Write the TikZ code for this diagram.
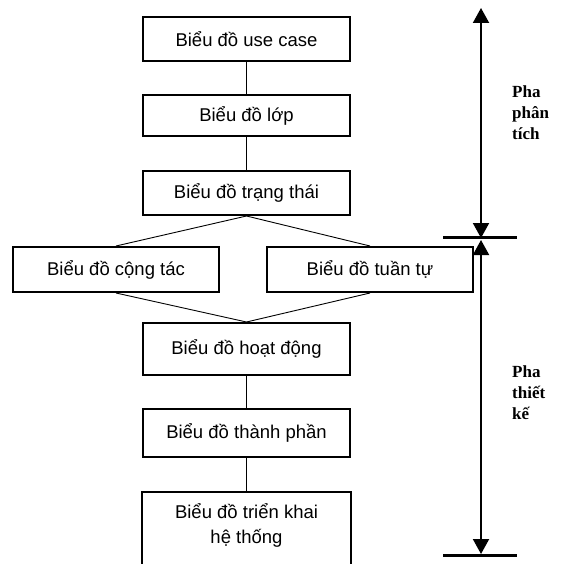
\documentclass[tikz,border=0pt]{standalone}
\usepackage{fontspec}
\setmainfont{Liberation Sans}
\newfontfamily\phasefont{Liberation Serif}
\usetikzlibrary{arrows.meta}

\begin{document}
\begin{tikzpicture}[x=1pt,y=-1pt,
  box/.style={draw, line width=2pt, minimum width=207pt, inner sep=0pt,
    font=\fontsize{18.5}{25}\selectfont, align=center},
  link/.style={line width=0.9pt},
  span/.style={line width=2pt,
    {Triangle[width=16pt,length=15pt]}-{Triangle[width=16pt,length=15pt]}},
  bar/.style={line width=3pt},
  phase/.style={font=\phasefont\bfseries\fontsize{17}{21}\selectfont,
    align=left, anchor=west, inner sep=0pt}]
\fill[white] (0,0) rectangle (560,564);
\clip (0,0) rectangle (560,564);

% diagram boxes
\node[box, minimum height=44pt] (b1) at (246.5,39)    {Biểu đồ use case};
\node[box, minimum height=41pt] (b2) at (246.5,115.5) {Biểu đồ lớp};
\node[box, minimum height=44pt] (b3) at (246.5,193)   {Biểu đồ trạng thái};
\node[box, minimum height=45pt, minimum width=206pt] (c1) at (116,269.5) {Biểu đồ cộng tác};
\node[box, minimum height=45pt, minimum width=206pt] (c2) at (370,269.5) {Biểu đồ tuần tự};
\node[box, minimum height=52pt] (b4) at (246.5,349) {Biểu đồ hoạt động};
\node[box, minimum height=48pt] (b5) at (246.5,433)   {Biểu đồ thành phần};
\node[box, draw=none, minimum height=66pt] (b6) at (246.5,525.5) {Biểu đồ triển khai\\hệ thống};
% last box runs past the lower edge
\draw[line width=2pt] (b6.west |- 0,580) -- (b6.north west) -- (b6.north east) -- (b6.east |- 0,580);

% connectors
\draw[link] (b1.south) -- (b2.north);
\draw[link] (b2.south) -- (b3.north);
\draw[link] (b3.south) -- (c1.north);
\draw[link] (b3.south) -- (c2.north);
\draw[link] (c1.south) -- (b4.north);
\draw[link] (c2.south) -- (b4.north);
\draw[link] (b4.south) -- (b5.north);
\draw[link] (b5.south) -- (b6.north);

% phase spans
\coordinate (p1) at (481,8);
\coordinate (p2) at (481,238);
\coordinate (p3) at (481,240);
\coordinate (p4) at (481,554);
\coordinate (m1l) at (443,237);
\coordinate (m1r) at (517,237);
\coordinate (m2l) at (443,555);
\coordinate (m2r) at (517,555);
\draw[span] (p1) -- (p2);
\draw[span] (p3) -- (p4);
\draw[bar] (m1l) -- (m1r);
\draw[bar] (m2l) -- (m2r);

\node[phase] (ph1) at (512,113) {Pha\\phân\\tích};
\node[phase] (ph2) at (512,393) {Pha\\thiết\\kế};
\end{tikzpicture}
\end{document}
